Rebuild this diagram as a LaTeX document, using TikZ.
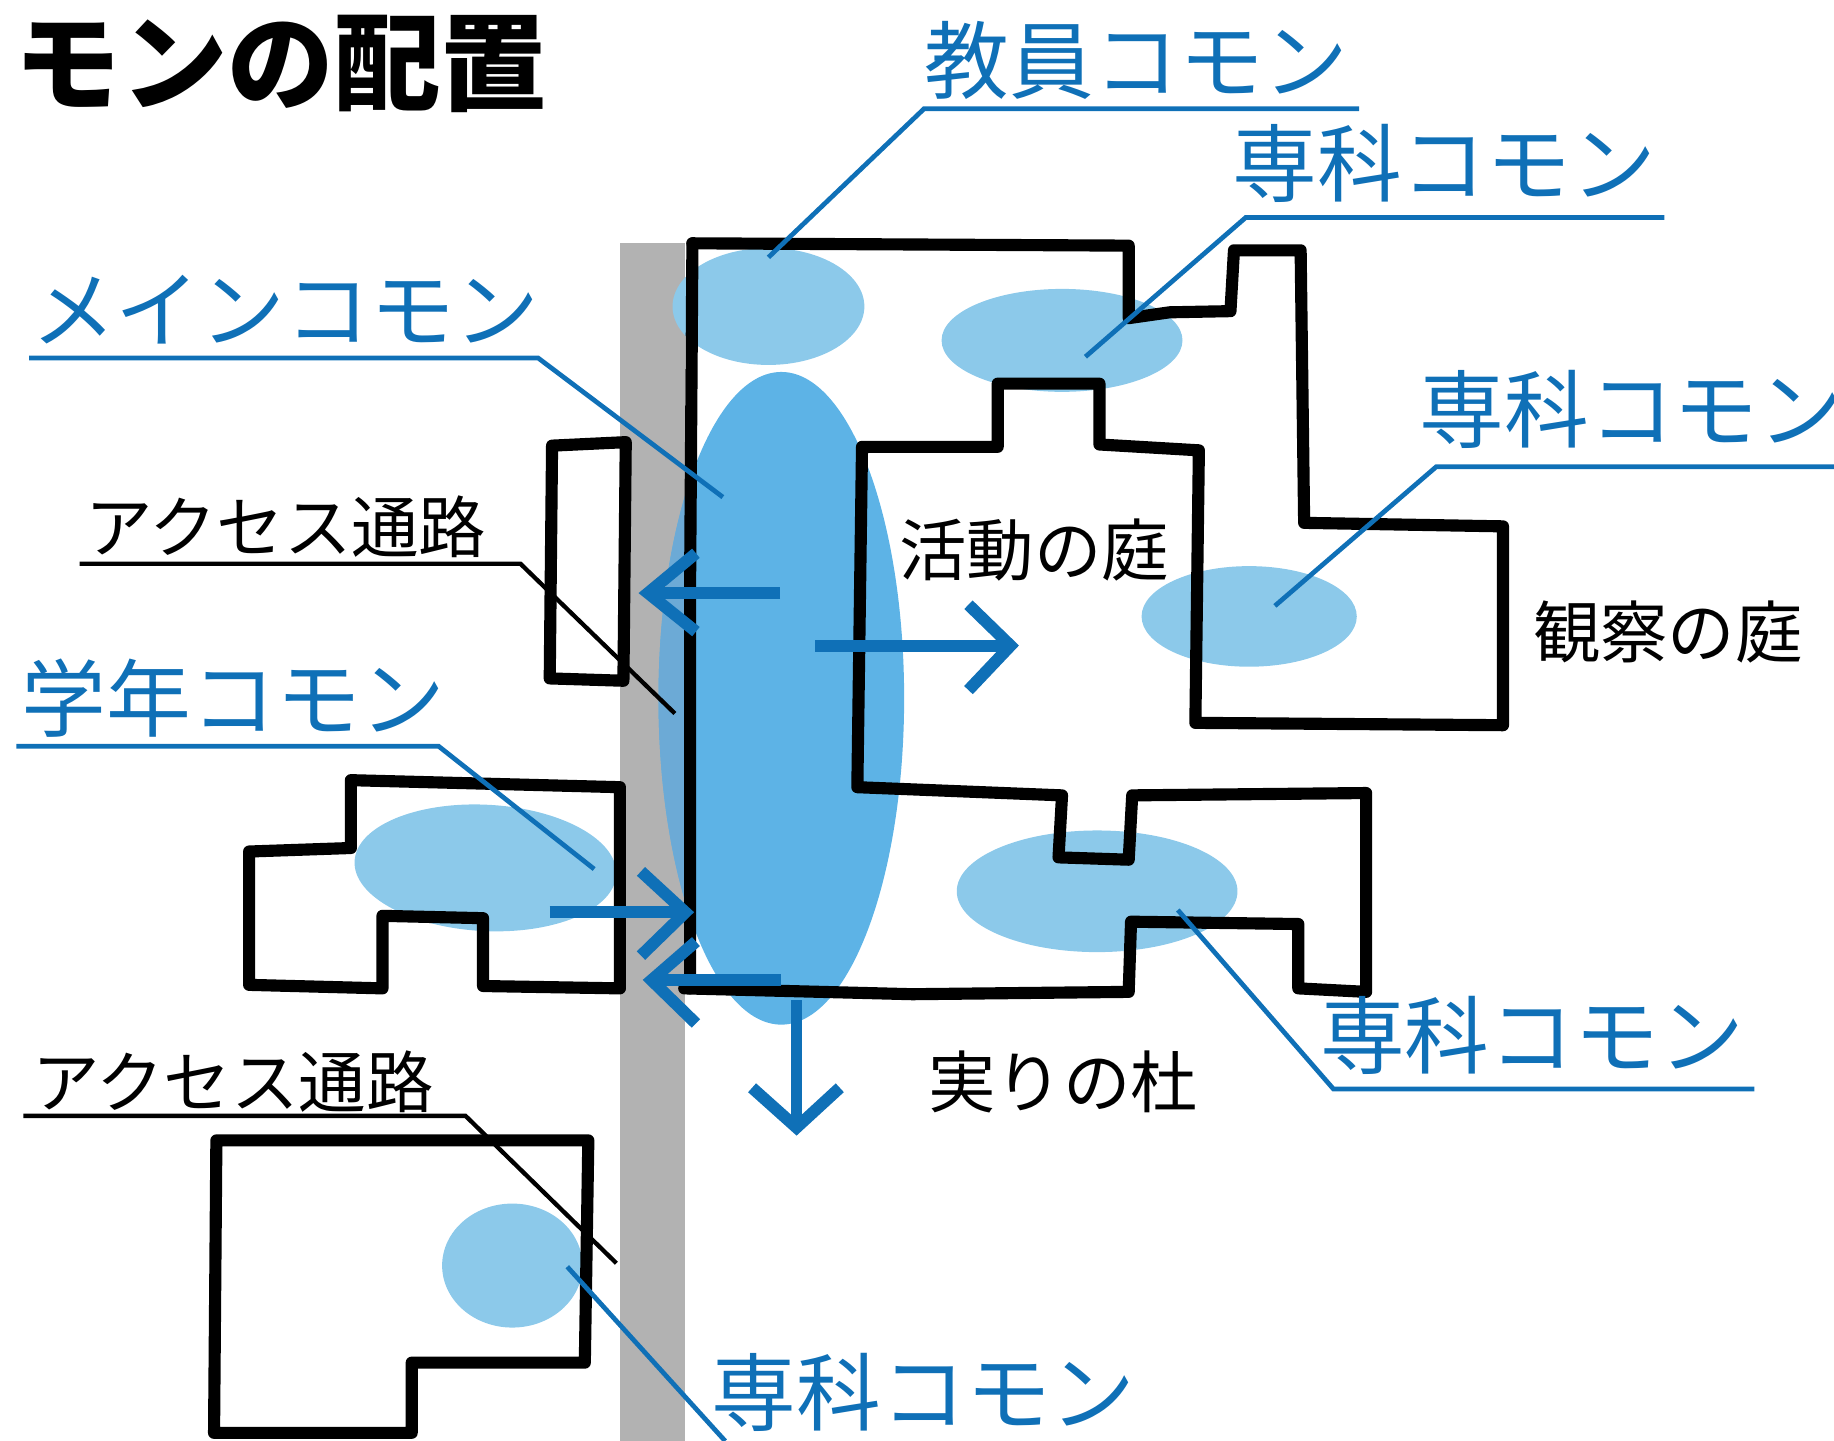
\documentclass[tikz,border=0pt]{standalone}
\usepackage{fontspec}
\setmainfont{Noto Sans CJK JP}
\definecolor{lightc}{HTML}{8CC9EA}
\definecolor{midc}{HTML}{5DB3E6}
\definecolor{midgrey}{HTML}{6CAAD6}
\definecolor{greyc}{HTML}{B2B2B2}
\definecolor{linec}{HTML}{0F70B7}
\tikzset{
  wall/.style={draw=black,line width=2.95pt,line join=round,line cap=round},
  bluearrow/.style={draw=linec,line width=2.9pt,line join=miter},
  leaderblue/.style={draw=linec,line width=1.15pt},
  leaderblack/.style={draw=black,line width=1.05pt},
  bluelabel/.style={anchor=west,inner sep=0pt,text=linec,font=\fontsize{20.6pt}{22pt}\selectfont},
  blacklabel/.style={anchor=west,inner sep=0pt,text=black,font=\fontsize{16.4pt}{18pt}\selectfont},
  titlelabel/.style={anchor=west,inner sep=0pt,text=black,font=\bfseries\fontsize{25.9pt}{28pt}\selectfont},
  common/.style={fill=lightc,draw=none},
}
\begin{document}
\begin{tikzpicture}[x=0.01cm,y=-0.01cm]
\useasboundingbox (0,0) rectangle (1568,1232);
\clip (0,0) rectangle (1568,1232);
% access strip
\fill[greyc] (530,208) rectangle (586,1232);
% main common
\fill[midc] (668,597) ellipse [x radius=105,y radius=279];
\begin{scope}
\clip (530,208) rectangle (590,1232);
\fill[midgrey] (668,597) ellipse [x radius=105,y radius=279];
\end{scope}
% other commons
\fill[common] (657,262) ellipse [x radius=82,y radius=50];
\fill[common] (908,291) ellipse [x radius=103,y radius=44];
\fill[common] (1068,527) ellipse [x radius=92,y radius=43];
\fill[common,rotate around={-3:(415,742)}] (415,742) ellipse [x radius=112,y radius=54];
\fill[common] (938,762) ellipse [x radius=120,y radius=52];
\fill[common] (438,1082) ellipse [x radius=60,y radius=53];
% buildings
\draw[wall] (592,208) -- (965,210) -- (965,272) -- (1000,267) -- (1052,266) -- (1055,214) -- (1112,214) -- (1115,447) -- (1285,450) -- (1285,620) -- (1022,618) -- (1025,385) -- (940,380) -- (940,328) -- (853,328) -- (853,382) -- (737,382) -- (733,673) -- (908,680) -- (905,733) -- (965,735) -- (968,680) -- (1168,678) -- (1168,848) -- (1110,845) -- (1110,790) -- (967,788) -- (965,848) -- (780,850) -- (585,845);
\draw[wall] (592,208) -- (590,500) -- (590,845);
\draw[wall] (472,381) -- (535,378) -- (533,582) -- (470,580) -- cycle;
\draw[wall] (213,728) -- (300,725) -- (300,667) -- (530,673) -- (530,845) -- (413,843) -- (413,785) -- (327,783) -- (327,845) -- (213,842) -- cycle;
\draw[wall] (185,975) -- (503,975) -- (500,1165) -- (352,1165) -- (352,1225) -- (183,1225) -- cycle;
% labels
\node[titlelabel] (title) at (12,55) {モンの配置};
\node[bluelabel] (faculty) at (790,52) {教員コモン};
\node[bluelabel] (dept1) at (1053,140) {専科コモン};
\node[bluelabel] (dept2) at (1213,350) {専科コモン};
\node[bluelabel] (maincommon) at (26,265) {メインコモン};
\node[bluelabel] (grade) at (18,597) {学年コモン};
\node[bluelabel] (dept3) at (1128,885) {専科コモン};
\node[bluelabel] (dept4) at (608,1190) {専科コモン};
\node[blacklabel] (access1) at (72,450) {アクセス通路};
\node[blacklabel] (access2) at (27,925) {アクセス通路};
\node[blacklabel] (activity) at (768,470) {活動の庭};
\node[blacklabel] (observe) at (1310,540) {観察の庭};
\node[blacklabel] (forest) at (793,925) {実りの杜};
% leaders
\coordinate (l1) at (657,220);
\coordinate (l2) at (928,305);
\coordinate (l3) at (1090,518);
\coordinate (l4) at (618,425);
\coordinate (l5) at (577,610);
\coordinate (l6) at (508,743);
\coordinate (l7) at (1007,778);
\coordinate (l8) at (527,1080);
\coordinate (l9) at (485,1083);
\draw[leaderblue] (1162,93) -- (790,93) -- (l1);
\draw[leaderblue] (1423,186) -- (1065,186) -- (l2);
\draw[leaderblue] (1568,399) -- (1228,399) -- (l3);
\draw[leaderblue] (25,306) -- (460,306) -- (l4);
\draw[leaderblack] (68,482) -- (445,482) -- (l5);
\draw[leaderblue] (14,638) -- (375,638) -- (l6);
\draw[leaderblue] (1500,931) -- (1140,931) -- (l7);
\draw[leaderblack] (20,954) -- (398,954) -- (l8);
\draw[leaderblue] (l9) -- (620,1232);
% arrows
\draw[bluearrow] (667,507) -- (556,507);
\draw[bluearrow] (595,473) -- (554,507) -- (595,540);
\draw[bluearrow] (697,552) -- (862,552);
\draw[bluearrow] (828,517) -- (864,552) -- (828,590);
\draw[bluearrow] (470,780) -- (584,780);
\draw[bluearrow] (548,745) -- (586,780) -- (548,817);
\draw[bluearrow] (668,838) -- (559,838);
\draw[bluearrow] (595,805) -- (557,838) -- (595,875);
\draw[bluearrow] (681,855) -- (681,962);
\draw[bluearrow] (643,930) -- (681,964) -- (718,930);
\end{tikzpicture}
\end{document}
